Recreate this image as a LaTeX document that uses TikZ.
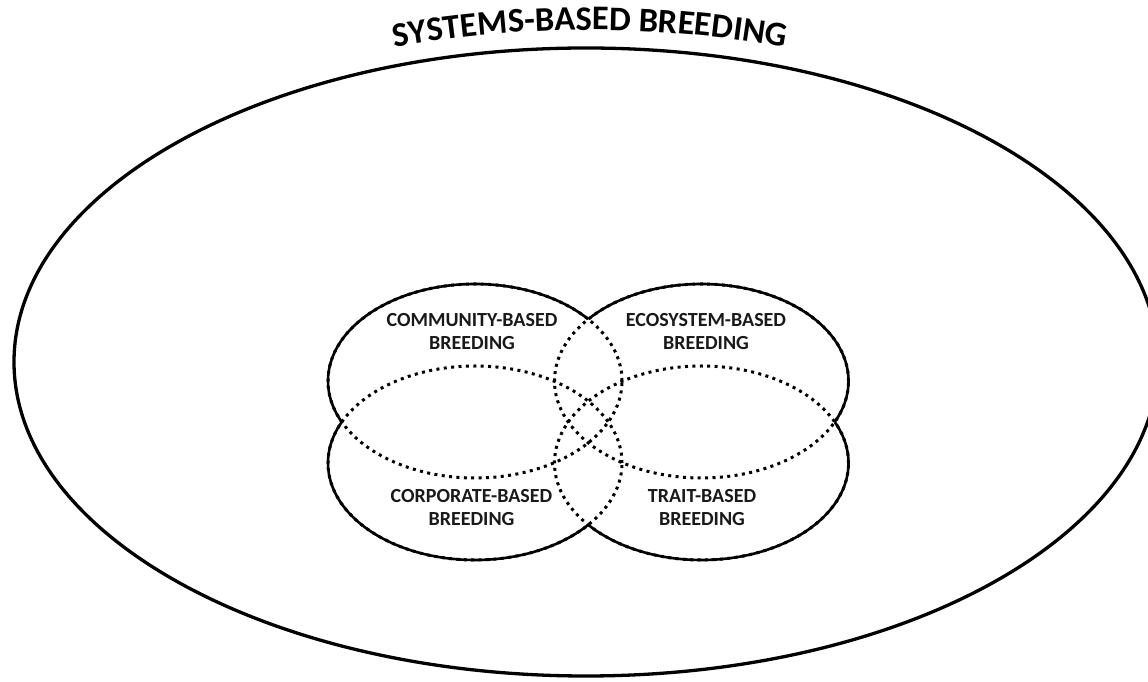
\documentclass[tikz,border=0pt]{standalone}
\usepackage{fontspec}
\setmainfont{Carlito}
\usetikzlibrary{decorations.text}
\begin{document}
\begin{tikzpicture}[x=1pt,y=1pt,
  outer/.style={line width=3.3pt},
  outline/.style={line width=2.6pt},
  dotline/.style={line width=3pt, dash pattern=on 3pt off 4.4pt},
  lbl/.style={font=\bfseries\fontsize{20}{23.5}\selectfont, align=center, text=black!90}]
\useasboundingbox (0,0) rectangle (1148,682);
\clip (0,0) rectangle (1148,682);

% enclosing system
\draw[outer] (586,320) ellipse [x radius=572, y radius=314];

% curved title along an arc above the enclosing ellipse
\path[decorate, decoration={text along path, text align=center,
  text={|\bfseries\fontsize{34.5}{34.5}\selectfont|SYSTEMS-BASED BREEDING}}]
  (590,-448) ++(108:1100) arc [start angle=108, end angle=72, radius=1100];

% the four breeding approaches
\def\rTL{(475,301) ellipse [x radius=147, y radius=97]}
\def\rTR{(701.5,301) ellipse [x radius=147, y radius=97]}
\def\rBL{(475,219) ellipse [x radius=147, y radius=97]}
\def\rBR{(701.5,219) ellipse [x radius=147, y radius=97]}
\def\page{(-10,-10) rectangle (1160,700)}

% overlaps shown dotted
\draw[dotline] \rTL;
\draw[dotline] \rTR;
\draw[dotline] \rBL;
\draw[dotline] \rBR;

% solid outline where each ellipse lies outside the others
\begin{scope}[even odd rule]
  \clip \page \rTR;
  \clip \page \rBL;
  \clip \page \rBR;
  \draw[outline] \rTL;
\end{scope}
\begin{scope}[even odd rule]
  \clip \page \rTL;
  \clip \page \rBL;
  \clip \page \rBR;
  \draw[outline] \rTR;
\end{scope}
\begin{scope}[even odd rule]
  \clip \page \rTL;
  \clip \page \rTR;
  \clip \page \rBR;
  \draw[outline] \rBL;
\end{scope}
\begin{scope}[even odd rule]
  \clip \page \rTL;
  \clip \page \rTR;
  \clip \page \rBL;
  \draw[outline] \rBR;
\end{scope}

% labels
\node[lbl] (community) at (472,350.5) {COMMUNITY-BASED\\BREEDING};
\node[lbl] (ecosystem) at (706,350.5) {ECOSYSTEM-BASED\\BREEDING};
\node[lbl] (corporate) at (471.5,174.5) {CORPORATE-BASED\\BREEDING};
\node[lbl] (trait) at (702,174.5) {TRAIT-BASED\\BREEDING};
\end{tikzpicture}
\end{document}
